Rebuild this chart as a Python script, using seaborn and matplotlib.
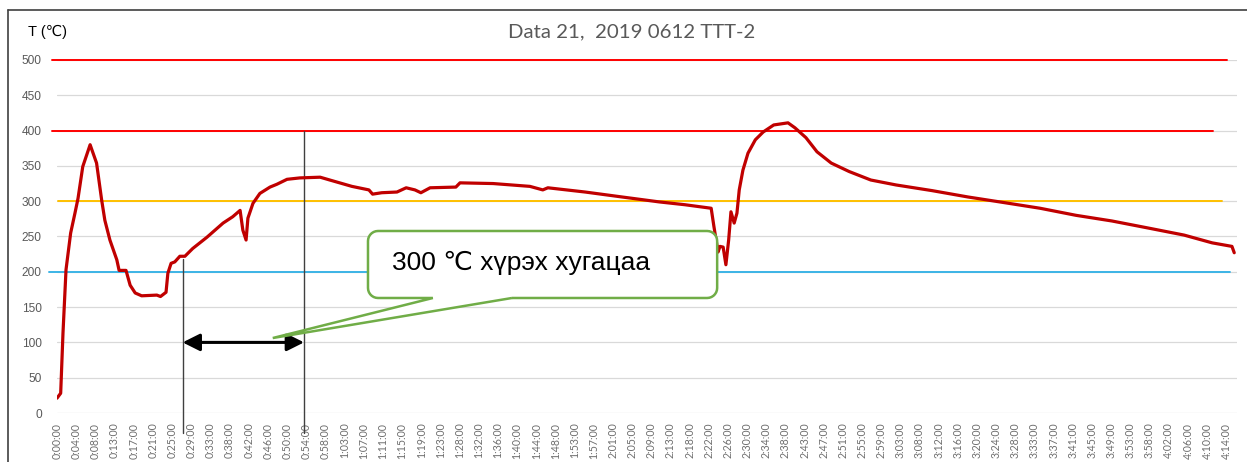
import numpy as np
import pandas as pd
import matplotlib
matplotlib.use("Agg")
import matplotlib.pyplot as plt
from matplotlib.path import Path
from matplotlib.patches import PathPatch
from matplotlib.lines import Line2D
import seaborn as sns

sns.set_style("white")
plt.rcParams['font.family'] = ['Liberation Sans', 'DejaVu Sans']

# temperature log (minutes from start, degC)
minutes = [0.0, 0.8, 1.3, 1.96, 2.97, 3.9, 4.57, 5.6, 7.2, 8.6, 9.7, 10.4, 11.5, 13.0, 13.5,
           15.0, 15.9, 17.0, 18.4, 21.7, 22.5, 23.7, 24.1, 24.8, 25.6, 26.7, 27.8, 29.5,
           32.6, 36.1, 38.2, 39.8, 40.4, 41.1, 41.5, 42.6, 44.1, 46.3, 47.8, 50.0, 52.8,
           57.2, 59.3, 64.1, 67.8, 68.6, 70.6, 73.9, 75.9, 77.8, 79.1, 81.1, 86.7, 87.6,
           94.8, 102.8, 105.6, 106.7, 114.8, 122.8, 130.9, 136.5, 142.2, 142.8, 143.7,
           144.1, 144.8, 145.4, 146.0, 146.5, 147.2, 147.8, 148.3, 149.1, 150.2, 151.8,
           153.5, 155.8, 158.9, 160.4, 162.8, 165.2, 168.3, 172.2, 176.9, 182.4, 190.2,
           198.0, 205.9, 213.7, 221.5, 229.3, 237.2, 245.0, 251.1, 255.4, 255.9]
temps = [21, 28, 113, 203, 255, 283, 304, 349, 380, 354, 302, 273, 245, 217, 202,
         202, 181, 170, 166, 167, 165, 171, 198, 212, 214, 222, 222, 233,
         249, 269, 278, 287, 259, 245, 276, 297, 311, 320, 324, 331, 333,
         334, 330, 321, 316, 310, 312, 313, 319, 316, 312, 319, 320, 326,
         325, 321, 316, 319, 313, 306, 299, 295, 290, 264, 228,
         236, 235, 210, 245, 285, 269, 283, 316, 344, 368, 387,
         398, 408, 411, 404, 390, 370, 354, 342, 330, 323, 315,
         306, 298, 290, 280, 272, 262, 252, 241, 236, 227]

tick_labels = ['0:00:00', '0:04:00', '0:08:00', '0:13:00', '0:17:00', '0:21:00', '0:25:00',
               '0:29:00', '0:33:00', '0:38:00', '0:42:00', '0:46:00', '0:50:00', '0:54:00',
               '0:58:00', '1:03:00', '1:07:00', '1:11:00', '1:15:00', '1:19:00', '1:23:00',
               '1:28:00', '1:32:00', '1:36:00', '1:40:00', '1:44:00', '1:48:00', '1:53:00',
               '1:57:00', '2:01:00', '2:05:00', '2:09:00', '2:13:00', '2:18:00', '2:22:00',
               '2:26:00', '2:30:00', '2:34:00', '2:38:00', '2:43:00', '2:47:00', '2:51:00',
               '2:55:00', '2:59:00', '3:03:00', '3:08:00', '3:12:00', '3:16:00', '3:20:00',
               '3:24:00', '3:28:00', '3:33:00', '3:37:00', '3:41:00', '3:45:00', '3:49:00',
               '3:53:00', '3:58:00', '4:02:00', '4:06:00', '4:10:00', '4:14:00']
tick_step = 250 / 60  # one label every 25 samples of 10 s

# reference levels and their colours
ref_levels = [500, 400, 300, 200]
ref_colors = ['#ff0000', '#ff0000', '#ffc000', '#3cb4e6']
ref_spans = [(-0.004, 0.9915), (-0.004, 0.9797), (0.001, 0.9873), (-0.007, 0.9941)]

# time needed to reach 300 degC
t_start, t_end = 27.3, 53.7
t_start_top, t_end_top = 218, 400

df = pd.DataFrame({'minute': minutes, 'temp': temps})

fig = plt.figure(figsize=(12.47, 4.62), dpi=100)
ax = fig.add_axes([57 / 1247, 49 / 462, 1180 / 1247, 353 / 462])

ax.set_xlim(0, 256.5)
ax.set_ylim(0, 500)
ax.set_yticks(np.arange(0, 501, 50))
ax.grid(axis='y', color='#d9d9d9', lw=0.9)
ax.set_axisbelow(True)
for s in ax.spines.values():
    s.set_visible(False)

for lvl, c, (a, b) in zip(ref_levels, ref_colors, ref_spans):
    ax.axhline(lvl, xmin=a, xmax=b, color=c, lw=1.4, clip_on=False, zorder=2)

sns.lineplot(data=df, x='minute', y='temp', ax=ax, color='#c00000', lw=2.3, zorder=4)

ax.set_xticks([k * tick_step for k in range(len(tick_labels))])
ax.set_xticklabels(tick_labels, rotation=90, fontsize=7.6, color='#6e6e6e', family='Lato')
ax.tick_params(axis='x', length=0, pad=7)
ax.tick_params(axis='y', length=0, pad=11, labelsize=8.6, labelcolor='#595959')
ax.set_xlabel('')
ax.set_ylabel('')

# vertical markers
ax.plot([t_start, t_start], [-28, t_start_top], color='#404040', lw=1.0, clip_on=False, zorder=3)
ax.plot([t_end, t_end], [-28, t_end_top], color='#404040', lw=1.0, clip_on=False, zorder=3)
ax.annotate('', xy=(t_end, 100), xytext=(t_start, 100),
            arrowprops=dict(arrowstyle='<|-|>', color='black', lw=2.2,
                            mutation_scale=26, shrinkA=0, shrinkB=0), zorder=5)


def callout(x0, x1, y0, y1, rx, ry, bl, br, tip):
    verts = []

    def arc(cx, cy, a0, a1):
        for t in np.linspace(np.radians(a0), np.radians(a1), 8):
            verts.append((cx + rx * np.cos(t), cy + ry * np.sin(t)))

    verts.append((br, y0))
    verts.append((x1 - rx, y0))
    arc(x1 - rx, y0 + ry, -90, 0)
    arc(x1 - rx, y1 - ry, 0, 90)
    arc(x0 + rx, y1 - ry, 90, 180)
    arc(x0 + rx, y0 + ry, 180, 270)
    verts.append((bl, y0))
    verts.append(tip)
    verts.append((br, y0))
    return Path(verts)


px_x = 1180 / 256.5
px_y = 353 / 500
box = callout(67.6, 143.5, 162.9, 257.8, 10 / px_x, 10 / px_y, 81.7, 98.9, (46.9, 106.2))
ax.add_patch(PathPatch(box, fc='white', ec='#70ad47', lw=1.8, zorder=6))
ax.text(72.8, 212, '300 ℃ хүрэх хугацаа', fontsize=19, va='center', ha='left',
        family=['Liberation Sans', 'DejaVu Sans'], color='black', zorder=7)

fig.text(632 / 1247, 1 - 32 / 462, 'Data 21,  2019 0612 TTT-2', ha='center', va='center',
         fontsize=14.7, color='#595959', family='Lato')
fig.text(28 / 1247, 1 - 32 / 462, 'T (℃)', ha='left', va='center', fontsize=10.5,
         color='black', family=['Liberation Sans', 'DejaVu Sans'])

# outer frame
fig.add_artist(Line2D([8 / 1247, 1], [1 - 10 / 462] * 2, color='#404040', lw=1.2))
fig.add_artist(Line2D([8 / 1247] * 2, [0, 1 - 10 / 462], color='#404040', lw=1.2))

fig.savefig('out.png', dpi=100)
